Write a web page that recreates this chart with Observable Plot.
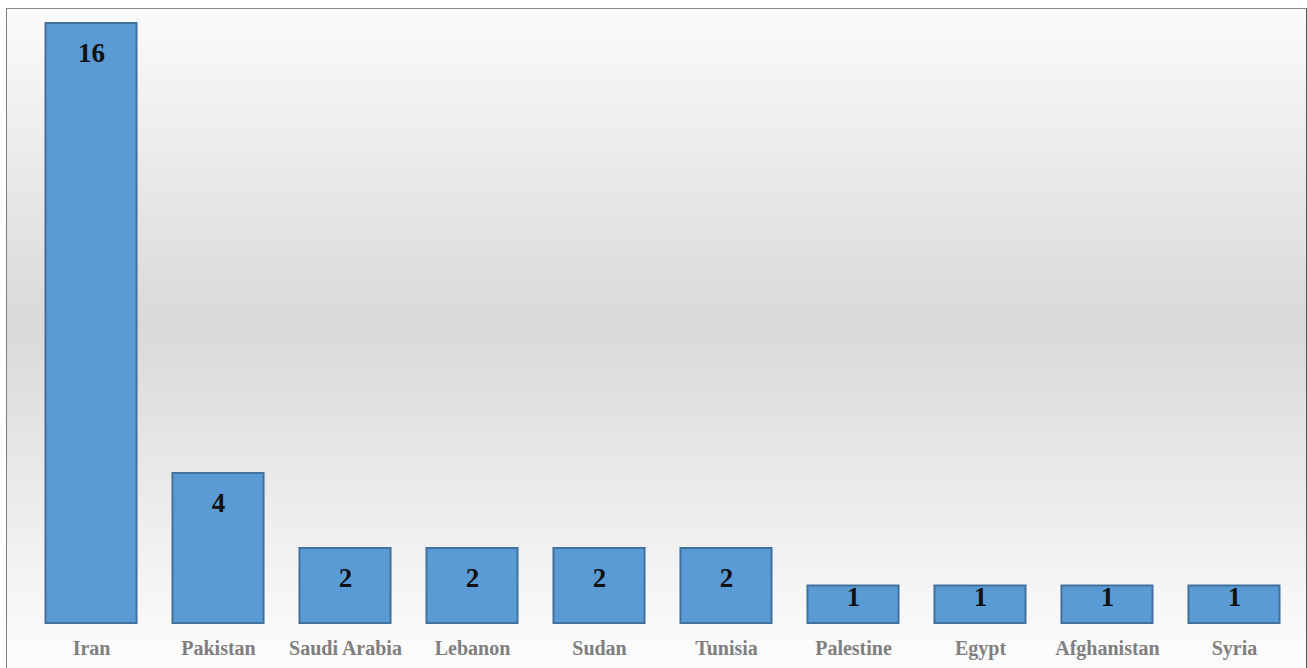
<!DOCTYPE html>
<html>
<head>
<meta charset="utf-8">
<script src="https://cdn.jsdelivr.net/npm/d3@7"></script>
<script src="https://cdn.jsdelivr.net/npm/@observablehq/plot@0.6"></script>
<style>
  html, body { margin: 0; padding: 0; background: #ffffff; }
  #wrap { position: relative; width: 1307px; height: 668px; overflow: hidden; }
  #panel {
    position: absolute; left: 6px; top: 8px; width: 1299px; height: 670px;
    border-left: 1px solid #7d7d7d; border-top: 1px solid #8a8a8a; border-right: 1px solid #555;
    background: linear-gradient(to bottom, #fbfbfb 0%, #d9d9d9 47%, #fbfbfb 95%);
  }
  #chart { position: absolute; left: 0; top: 0; }
</style>
</head>
<body>
<div id="wrap"><div id="panel"></div><div id="chart"></div></div>
<script>
// Number of entries per country
const countries = ["Iran", "Pakistan", "Saudi Arabia", "Lebanon", "Sudan", "Tunisia", "Palestine", "Egypt", "Afghanistan", "Syria"];
const counts = [16, 4, 2, 2, 2, 2, 1, 1, 1, 1];

const data = countries.map((country, i) => ({country, count: counts[i]}));
const serif = "'Liberation Serif', 'Times New Roman', serif";

const chart = Plot.plot({
  width: 1307,
  height: 668,
  marginLeft: 27.5,
  marginRight: 9.5,
  marginTop: 23,
  marginBottom: 45,
  style: {background: "transparent"},
  x: {domain: countries, paddingInner: 0.283, paddingOuter: 0.1417, round: false, label: null},
  y: {domain: [0, 16], axis: null},
  marks: [
    Plot.barY(data, {x: "country", y: "count", fill: "#5b9bd5", stroke: "#41719c", strokeWidth: 2}),
    Plot.text(data.filter(d => d.count > 1), {
      x: "country", y: "count", text: d => String(d.count), dy: 30,
      fontSize: 27, fontWeight: "bold", fontFamily: serif, fill: "#111"
    }),
    Plot.text(data.filter(d => d.count <= 1), {
      x: "country", y: "count", text: d => String(d.count), dy: 11,
      fontSize: 27, fontWeight: "bold", fontFamily: serif, fill: "#111"
    }),
    Plot.axisX({
      tickSize: 0, tickPadding: 17, label: null,
      fontSize: 20, fontWeight: "bold", fontFamily: serif, fill: "#7f7f7f"
    })
  ]
});
document.getElementById("chart").appendChild(chart);
</script>
</body>
</html>
